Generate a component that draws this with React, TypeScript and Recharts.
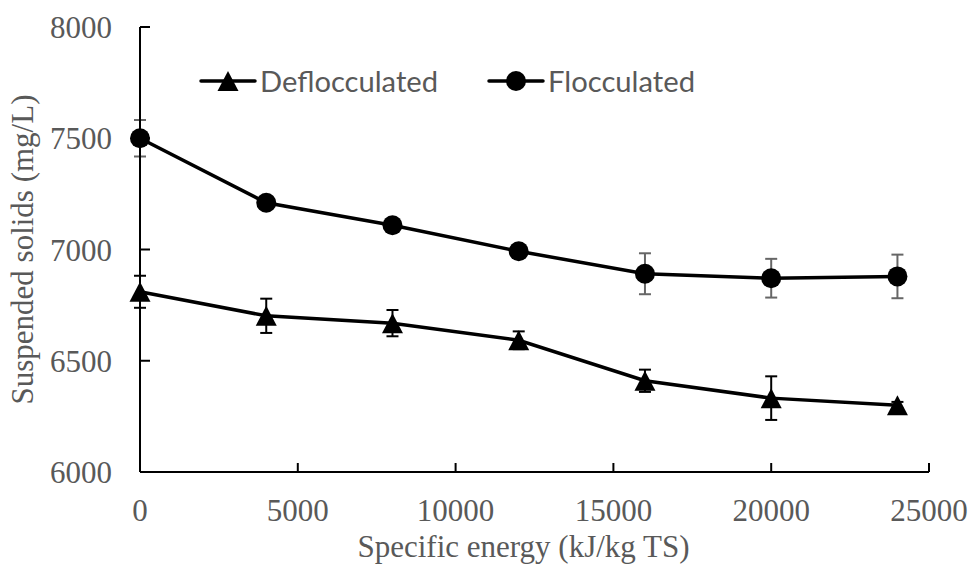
import { LineChart, Line, XAxis, YAxis, ErrorBar } from 'recharts';

// specific energy (kJ/kg TS)
const energy = [0, 4000, 8000, 12000, 16000, 20000, 24000];
// suspended solids (mg/L)
const deflocculated = [6810, 6702, 6669, 6592, 6410, 6332, 6300];
const deflocErr = [72, 77, 59, 40, 50, 98, 15];
const flocculated = [7500, 7210, 7109, 6992, 6891, 6871, 6879];
const flocErr = [82, 25, 20, 20, 92, 87, 98];

const xTicks = [0, 5000, 10000, 15000, 20000, 25000];
const yTicks = [6000, 6500, 7000, 7500, 8000];

const data = energy.map((e, i) => ({
  energy: e,
  defloc: deflocculated[i],
  deflocErr: deflocErr[i],
  floc: flocculated[i],
  flocErr: flocErr[i],
}));

const GREY = '#595959';
const SERIF = '"Liberation Serif", "Times New Roman", serif';
const tickStyle = { fill: GREY, fontSize: 31, fontFamily: SERIF, style: { fontFamily: SERIF } };

const Triangle = (props: any) => {
  const { cx, cy, index } = props;
  if (cx == null || cy == null) return <g key={`t-${index}`} />;
  return (
    <polygon
      key={`t-${index}`}
      points={`${cx},${cy - 10} ${cx + 10.5},${cy + 10} ${cx - 10.5},${cy + 10}`}
      fill="#000"
    />
  );
};

const Circle = (props: any) => {
  const { cx, cy, index } = props;
  if (cx == null || cy == null) return <g key={`c-${index}`} />;
  return <circle key={`c-${index}`} cx={cx} cy={cy} r={10} fill="#000" />;
};

function ChartLegend() {
  return (
    <svg
      width={971}
      height={120}
      style={{ position: 'absolute', left: 0, top: 0, pointerEvents: 'none' }}
    >
      <line x1={201} y1={81} x2={255} y2={81} stroke="#000" strokeWidth={3.5} strokeLinecap="round" />
      <polygon points="228,71 238.5,91 217.5,91" fill="#000" />
      <text
        x={260}
        y={92}
        fontFamily="Lato, sans-serif"
        fontSize={29}
        fill={GREY}
        textLength={178}
        lengthAdjust="spacingAndGlyphs"
      >
        Deflocculated
      </text>
      <line x1={489} y1={81} x2={543} y2={81} stroke="#000" strokeWidth={3.5} strokeLinecap="round" />
      <circle cx={516} cy={81} r={10} fill="#000" />
      <text
        x={548}
        y={92}
        fontFamily="Lato, sans-serif"
        fontSize={29}
        fill={GREY}
        textLength={147}
        lengthAdjust="spacingAndGlyphs"
      >
        Flocculated
      </text>
    </svg>
  );
}

export default function App() {
  return (
    <div
      style={{
        position: 'absolute',
        left: 0,
        top: 0,
        width: 971,
        height: 565,
        background: '#fff',
        fontFamily: SERIF,
      }}
    >
      <LineChart
        width={971}
        height={565}
        data={data}
        margin={{ top: 27, right: 42, left: 0, bottom: 0 }}
        style={{ fontFamily: SERIF }}
      >
        <XAxis
          dataKey="energy"
          type="number"
          domain={[0, 25000]}
          ticks={xTicks}
          height={93}
          stroke="#000"
          strokeWidth={2}
          tickSize={-9}
          tickMargin={36}
          tick={tickStyle}
          label={{
            value: 'Specific energy (kJ/kg TS)',
            position: 'insideBottom',
            offset: 8,
            dx: -11,
            style: { fill: GREY, fontSize: 31, fontFamily: SERIF },
          }}
        />
        <YAxis
          type="number"
          domain={[6000, 8000]}
          ticks={yTicks}
          width={140}
          stroke="#000"
          strokeWidth={2}
          tickSize={-10}
          tickMargin={38}
          tick={tickStyle}
          label={{
            value: 'Suspended solids (mg/L)',
            angle: -90,
            position: 'insideLeft',
            offset: 22,
            style: { fill: GREY, fontSize: 31, fontFamily: SERIF, textAnchor: 'middle' },
          }}
        />
        <Line
          dataKey="defloc"
          stroke="#000"
          strokeWidth={3.5}
          dot={Triangle}
          activeDot={false}
          isAnimationActive={false}
        >
          <ErrorBar dataKey="deflocErr" direction="y" width={6} stroke="#000" strokeWidth={2} />
        </Line>
        <Line
          dataKey="floc"
          stroke="#000"
          strokeWidth={3.5}
          dot={Circle}
          activeDot={false}
          isAnimationActive={false}
        >
          <ErrorBar dataKey="flocErr" direction="y" width={6} stroke="#666" strokeWidth={2} />
        </Line>
      </LineChart>
      <ChartLegend />
    </div>
  );
}
